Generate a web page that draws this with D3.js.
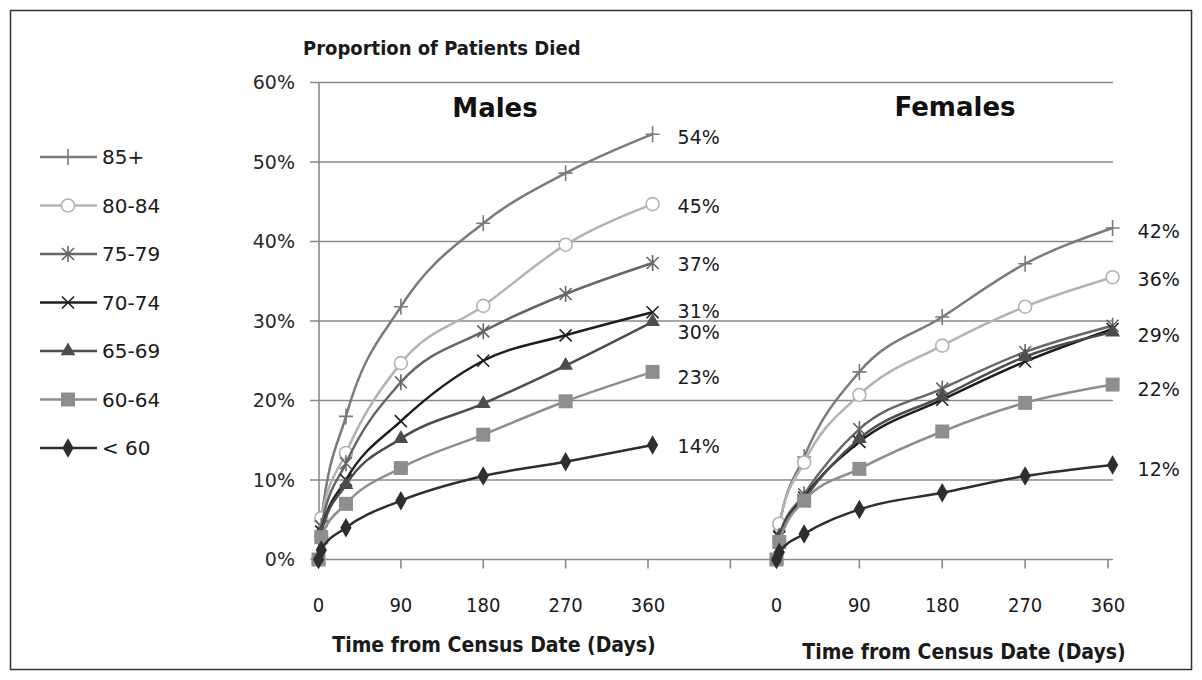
<!DOCTYPE html>
<html>
<head>
<meta charset="utf-8">
<script src="https://cdn.jsdelivr.net/npm/d3@7"></script>
<style>
  body { margin: 0; background: #fff; }
  svg { display: block; }
</style>
</head>
<body>
<div id="chart"></div>
<script>
// follow-up days for each point (same for both panels)
const days = [0, 3, 30, 90, 180, 270, 365]
const ageGroups = ["85+", "80-84", "75-79", "70-74", "65-69", "60-64", "< 60"]
const xTicks = [0, 90, 180, 270, 360]
const yTicks = [0, 0.1, 0.2, 0.3, 0.4, 0.5, 0.6]

// proportion died (%), males
const males85 = [0, 4.8, 18.0, 31.8, 42.3, 48.6, 53.5]
const males80 = [0, 5.2, 13.4, 24.7, 31.9, 39.6, 44.7]
const males75 = [0, 4.2, 12.1, 22.3, 28.7, 33.4, 37.3]
const males70 = [0, 3.5, 10.0, 17.4, 25.0, 28.2, 31.1]
const males65 = [0, 3.4, 9.4, 15.2, 19.6, 24.4, 29.9]
const males60 = [0, 2.8, 7.0, 11.5, 15.7, 19.9, 23.6]
const malesU60 = [0, 1.2, 4.0, 7.4, 10.5, 12.3, 14.4]

// proportion died (%), females
const females85 = [0, 4.2, 12.9, 23.6, 30.5, 37.2, 41.7]
const females80 = [0, 4.5, 12.2, 20.7, 26.9, 31.8, 35.5]
const females75 = [0, 3.0, 8.2, 16.4, 21.5, 26.1, 29.4]
const females70 = [0, 2.8, 7.8, 14.8, 20.1, 24.9, 29.0]
const females65 = [0, 2.8, 7.6, 15.2, 20.5, 25.5, 28.6]
const females60 = [0, 2.2, 7.4, 11.4, 16.1, 19.7, 22.0]
const femalesU60 = [0, 0.9, 3.2, 6.3, 8.4, 10.5, 11.9]

// end-of-line labels (null = no label for that series)
const malesEndLabels = ["54%", "45%", "37%", "31%", "30%", "23%", "14%"]
const femalesEndLabels = ["42%", "36%", null, "29%", null, "22%", "12%"]

const W = 1202, H = 680
const y0 = 559.5, y1 = 82.5

const styles = [
    {stroke: "#7b7b7b", marker: "plus"},
    {stroke: "#b3b3b3", marker: "circle"},
    {stroke: "#666666", marker: "star"},
    {stroke: "#1e1e1e", marker: "x"},
    {stroke: "#4d4d4d", marker: "triangle"},
    {stroke: "#8e8e8e", marker: "square"},
    {stroke: "#2e2e2e", marker: "diamond"}
]
const malesLabelNudge = [0, -1, -2, -4, 7, 2, -2]
const femalesLabelNudge = [0, -1, 0, 3, 0, 2, 1]

const svg = d3.select("#chart").append("svg")
    .attr("width", W).attr("height", H)

svg.append("rect")
    .attr("x", 10.5).attr("y", 10.5)
    .attr("width", W - 21).attr("height", H - 21)
    .attr("fill", "#fff").attr("stroke", "#333").attr("stroke-width", 1.5)

const yScale = d3.scaleLinear().domain([0, 0.6]).range([y0, y1])
const xMale = d3.scaleLinear().domain([0, 360]).range([318.5, 648])
const xFemale = d3.scaleLinear().domain([0, 360]).range([776.5, 1108])

const gridColor = "#8a8a8a"

// gridlines span both panels
svg.append("g").selectAll("line.grid")
    .data(yTicks)
    .enter().append("line")
    .attr("class", "grid")
    .attr("x1", 310).attr("x2", 1113)
    .attr("y1", d => yScale(d)).attr("y2", d => yScale(d))
    .attr("stroke", gridColor).attr("stroke-width", 1.6)

// vertical axis line
svg.append("line")
    .attr("x1", 319).attr("x2", 319)
    .attr("y1", y1).attr("y2", y0)
    .attr("stroke", gridColor).attr("stroke-width", 1.6)

svg.append("g").selectAll("text.ytick")
    .data(yTicks)
    .enter().append("text")
    .attr("class", "ytick")
    .attr("x", 295)
    .attr("y", d => yScale(d))
    .attr("dy", "0.36em")
    .attr("text-anchor", "end")
    .attr("font-family", "DejaVu Sans, sans-serif")
    .attr("font-size", 19)
    .attr("fill", "#2a2a2a")
    .text(d => d3.format(".0%")(d))

// x tick marks
const maleTickMarks = [90, 180, 270, 360, 450]
const femaleTickMarks = [90, 180, 270, 360]
svg.append("g").selectAll("line.xtm")
    .data(maleTickMarks.map(xMale).concat(femaleTickMarks.map(xFemale)))
    .enter().append("line")
    .attr("x1", d => d).attr("x2", d => d)
    .attr("y1", y0).attr("y2", y0 + 9)
    .attr("stroke", gridColor).attr("stroke-width", 1.6)

function xLabels(scale) {
    svg.append("g").selectAll("text")
        .data(xTicks)
        .enter().append("text")
        .attr("x", d => scale(d))
        .attr("y", 612)
        .attr("text-anchor", "middle")
        .attr("font-family", "DejaVu Sans Condensed, DejaVu Sans, sans-serif")
        .attr("font-size", 20)
        .attr("fill", "#1a1a1a")
        .text(d => d)
}
xLabels(xMale)
xLabels(xFemale)

function axisTitle(cx, cy) {
    svg.append("text")
        .attr("x", cx).attr("y", cy)
        .attr("text-anchor", "middle")
        .attr("font-family", "DejaVu Sans Condensed, DejaVu Sans, sans-serif")
        .attr("font-weight", "bold")
        .attr("font-size", 21)
        .attr("fill", "#1a1a1a")
        .text("Time from Census Date (Days)")
}
axisTitle(494, 652)
axisTitle(964, 659)

svg.append("text")
    .attr("x", 303).attr("y", 55)
    .attr("font-family", "DejaVu Sans Condensed, DejaVu Sans, sans-serif")
    .attr("font-weight", "bold")
    .attr("font-size", 20)
    .attr("fill", "#1a1a1a")
    .text("Proportion of Patients Died")

svg.append("text")
    .attr("x", 495).attr("y", 117)
    .attr("text-anchor", "middle")
    .attr("font-family", "DejaVu Sans, sans-serif")
    .attr("font-weight", "bold")
    .attr("font-size", 26)
    .attr("fill", "#111")
    .text("Males")

svg.append("text")
    .attr("x", 955).attr("y", 116)
    .attr("text-anchor", "middle")
    .attr("font-family", "DejaVu Sans, sans-serif")
    .attr("font-weight", "bold")
    .attr("font-size", 26)
    .attr("fill", "#111")
    .text("Females")

function drawMarker(g, type, color) {
    if (type === "plus") {
        g.append("path").attr("d", "M-7,0H7M0,-8V8")
            .attr("stroke", color).attr("stroke-width", 1.6).attr("fill", "none")
    } else if (type === "circle") {
        g.append("circle").attr("r", 6.5)
            .attr("fill", "#fff").attr("stroke", color).attr("stroke-width", 1.6)
    } else if (type === "star") {
        g.append("path").attr("d", "M-6,-6L6,6M-6,6L6,-6M0,-8V8")
            .attr("stroke", color).attr("stroke-width", 1.6).attr("fill", "none")
    } else if (type === "x") {
        g.append("path").attr("d", "M-6,-6L6,6M-6,6L6,-6")
            .attr("stroke", color).attr("stroke-width", 1.6).attr("fill", "none")
    } else if (type === "triangle") {
        g.append("path").attr("d", d3.symbol(d3.symbolTriangle, 95)())
            .attr("fill", color)
    } else if (type === "square") {
        g.append("path").attr("d", d3.symbol(d3.symbolSquare, 196)())
            .attr("fill", color)
    } else if (type === "diamond") {
        g.append("path").attr("d", d3.symbol(d3.symbolDiamond, 110)())
            .attr("fill", color)
    }
}

function drawPanel(seriesList, xScale, endLabels, nudges) {
    const line = d3.line()
        .x((d, i) => xScale(days[i]))
        .y(d => yScale(d / 100))
        .curve(d3.curveMonotoneX)
    // legend order: the younger groups end up drawn on top
    seriesList.forEach((vals, k) => {
        const st = styles[k]
        const g = svg.append("g").attr("class", "series")
        g.append("path")
            .attr("d", line(vals))
            .attr("fill", "none")
            .attr("stroke", st.stroke)
            .attr("stroke-width", 2.5)
        vals.forEach((v, i) => {
            const mg = g.append("g")
                .attr("transform", `translate(${xScale(days[i])},${yScale(v / 100)})`)
            drawMarker(mg, st.marker, st.stroke)
        })
        if (endLabels[k]) {
            const last = vals[vals.length - 1]
            g.append("text")
                .attr("x", xScale(days[days.length - 1]) + 25)
                .attr("y", yScale(last / 100) + 3 + nudges[k])
                .attr("dy", "0.36em")
                .attr("font-family", "DejaVu Sans, sans-serif")
                .attr("font-size", 19)
                .attr("fill", "#1a1a1a")
                .text(endLabels[k])
        }
    })
}

drawPanel([males85, males80, males75, males70, males65, males60, malesU60], xMale, malesEndLabels, malesLabelNudge)
drawPanel([females85, females80, females75, females70, females65, females60, femalesU60], xFemale, femalesEndLabels, femalesLabelNudge)

// legend
const legendY = d3.scalePoint().domain(ageGroups).range([157, 448])
const legend = svg.append("g").selectAll("g.legend")
    .data(ageGroups)
    .enter().append("g")
    .attr("class", "legend")
    .attr("transform", d => `translate(0,${legendY(d)})`)
legend.append("line")
    .attr("x1", 40).attr("x2", 97)
    .attr("stroke", (d, i) => styles[i].stroke)
    .attr("stroke-width", 2.5)
legend.each(function(d, i) {
    const mg = d3.select(this).append("g").attr("transform", "translate(68,0)")
    drawMarker(mg, styles[i].marker, styles[i].stroke)
})
legend.append("text")
    .attr("x", 102)
    .attr("dy", "0.36em")
    .attr("font-family", "DejaVu Sans, sans-serif")
    .attr("font-size", 20)
    .attr("fill", "#1a1a1a")
    .text(d => d)
</script>
</body>
</html>
